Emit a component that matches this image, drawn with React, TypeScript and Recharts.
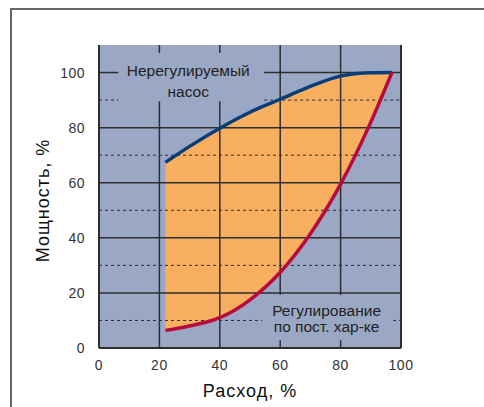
import React from "react";
import {
  ComposedChart,
  Area,
  Line,
  XAxis,
  YAxis,
  ReferenceLine,
  ReferenceArea,
} from "recharts";

// flow, % (x) and power, % (y)
const flow = [22, 30, 40, 50, 60, 70, 80, 90, 97];
const unregulated = [67.4, 73.2, 79.8, 85.6, 90.3, 95, 98.7, 99.9, 100];
const regulated = [6.4, 8, 11, 17.5, 27.5, 41.5, 59.5, 82, 100];

const xTicks = [0, 20, 40, 60, 80, 100];
const yTicks = [0, 20, 40, 60, 80, 100];
const solidY = [20, 40, 60, 80, 100];
const dashedY = [10, 30, 50, 70, 90];
const solidX = [20, 40, 60, 80];

const data = flow.map((f, i) => ({
  flow: f,
  unreg: unregulated[i],
  reg: regulated[i],
  band: [regulated[i], unregulated[i]],
}));

const BG = "#9aa8c5";
const GRID = "#2e2e2e";
const FONT = "'Liberation Sans', Arial, sans-serif";
const X_MAX = 100;
const Y_MAX = 110;

// label boxes (grid lines stop at their edges)
const topBox = { x1: 6.4, x2: 54.7, y1: 89.6, y2: 107.1 };
const lowBox = { x1: 54, x2: 97.4, y1: 2.8, y2: 19.3 };
const boxes = [topBox, lowBox];

// split a grid line into pieces around the label boxes
function pieces(fixed: number, horizontal: boolean) {
  const max = horizontal ? X_MAX : Y_MAX;
  const gaps = boxes
    .filter((b) => (horizontal ? fixed > b.y1 && fixed < b.y2 : fixed > b.x1 && fixed < b.x2))
    .map((b) => (horizontal ? [b.x1, b.x2] : [b.y1, b.y2]))
    .sort((a, b) => a[0] - b[0]);
  const out: number[][] = [];
  let start = 0;
  gaps.forEach(([a, b]) => {
    out.push([start, a]);
    start = b;
  });
  out.push([start, max]);
  return out.map(([a, b]) =>
    horizontal
      ? [{ x: a, y: fixed }, { x: b, y: fixed }]
      : [{ x: fixed, y: a }, { x: fixed, y: b }]
  );
}

const boxLabel = (lines: string[], dx: number, baselines: number[]) => (props: any) => {
  const vb = props.viewBox || {};
  const cx = vb.x + vb.width / 2 + dx;
  return (
    <text fontFamily={FONT} fontSize={15.5} fill="#222" textAnchor="middle">
      {lines.map((t, i) => (
        <tspan key={i} x={cx} y={vb.y + baselines[i]}>
          {t}
        </tspan>
      ))}
    </text>
  );
};

export default function App() {
  return (
    <div
      style={{
        position: "fixed",
        left: 0,
        top: 0,
        width: 484,
        height: 407,
        background: "#fff",
        overflow: "hidden",
      }}
    >
      <div
        style={{
          position: "absolute",
          left: 10,
          top: 8,
          width: 600,
          height: 600,
          border: "2px solid #666",
        }}
      />
      <div style={{ position: "absolute", left: 0, top: 0 }}>
        <ComposedChart
          width={484}
          height={407}
          data={data}
          margin={{ top: 45, right: 83, bottom: 0, left: 0 }}
        >
          <XAxis
            dataKey="flow"
            type="number"
            domain={[0, X_MAX]}
            ticks={xTicks}
            height={59}
            tickLine={false}
            tickMargin={6}
            axisLine={{ stroke: GRID, strokeWidth: 2 }}
            tick={{ fontSize: 14, fill: "#333", fontFamily: FONT, letterSpacing: 0.5 }}
            label={{
              value: "Расход, %",
              position: "insideBottom",
              offset: 10,
              style: { fontSize: 18, fill: "#111", fontFamily: FONT, letterSpacing: 1 },
            }}
          />
          <YAxis
            type="number"
            domain={[0, Y_MAX]}
            ticks={yTicks}
            width={99}
            tickLine={false}
            tickMargin={8}
            axisLine={{ stroke: GRID, strokeWidth: 2 }}
            tick={{ fontSize: 14, fill: "#333", fontFamily: FONT, letterSpacing: 0.5 }}
            label={{
              value: "Мощность, %",
              position: "center",
              angle: -90,
              dx: -7,
              dy: 4,
              style: { fontSize: 18, fill: "#111", fontFamily: FONT, letterSpacing: 1, textAnchor: "middle" },
            }}
          />

          {/* plot background */}
          <ReferenceArea x1={0} x2={X_MAX} y1={0} y2={Y_MAX} fill={BG} fillOpacity={1} stroke="none" />

          <Area
            type="monotone"
            dataKey="band"
            fill="#f8b060"
            fillOpacity={1}
            stroke="none"
            isAnimationActive={false}
          />

          {dashedY.flatMap((y) =>
            pieces(y, true).map((seg, k) => (
              <ReferenceLine key={`d${y}-${k}`} segment={seg} stroke={GRID} strokeWidth={1} strokeDasharray="3 3" />
            ))
          )}
          {solidY.flatMap((y) =>
            pieces(y, true).map((seg, k) => (
              <ReferenceLine key={`h${y}-${k}`} segment={seg} stroke={GRID} strokeWidth={1.5} />
            ))
          )}
          {solidX.flatMap((x) =>
            pieces(x, false).map((seg, k) => (
              <ReferenceLine key={`v${x}-${k}`} segment={seg} stroke={GRID} strokeWidth={1.5} />
            ))
          )}
          <ReferenceLine x={X_MAX} stroke={GRID} strokeWidth={2} />

          <ReferenceArea
            {...topBox}
            fill="none"
            stroke="none"
            label={{ content: boxLabel(["Нерегулируемый", "насос"], -3, [23, 43.7]) }}
          />
          <ReferenceArea
            {...lowBox}
            fill="none"
            stroke="none"
            label={{ content: boxLabel(["Регулирование", "по пост. хар-ке"], -1, [21, 37.4]) }}
          />

          <Line
            type="monotone"
            dataKey="unreg"
            stroke="#073d78"
            strokeWidth={3.5}
            dot={false}
            isAnimationActive={false}
          />
          <Line
            type="monotone"
            dataKey="reg"
            stroke="#b70a3d"
            strokeWidth={3.5}
            dot={false}
            isAnimationActive={false}
          />
        </ComposedChart>
      </div>
    </div>
  );
}
